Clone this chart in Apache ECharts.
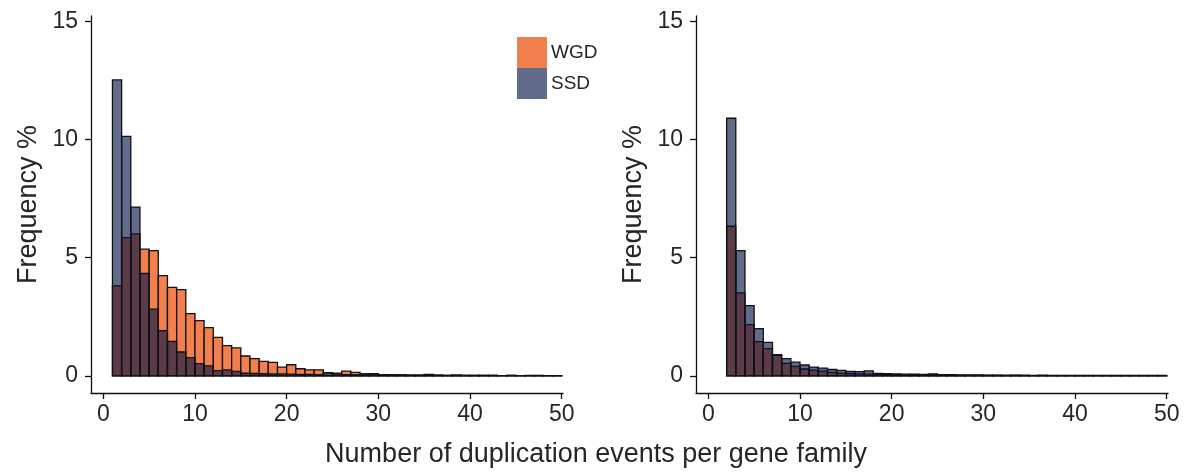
<!DOCTYPE html>
<html>
<head>
<meta charset="utf-8">
<script src="https://cdn.jsdelivr.net/npm/echarts@6/dist/echarts.min.js"></script>
<style>
html,body{margin:0;padding:0;background:#fff;}
#chart{width:1192px;height:472px;}
</style>
</head>
<body>
<div id="chart"></div>
<script>
// Bin start values (each bin spans [start, start+1])
const leftBins = [1,2,3,4,5,6,7,8,9,10,11,12,13,14,15,16,17,18,19,20,21,22,23,24,25,26,27,28,29,30,31,32,33,34,35,36,37,38,39,40,41,42,43,44,45,46,47,48,49];
const leftWGD = [3.81,5.85,6.01,5.36,5.30,4.24,3.74,3.65,2.63,2.34,2.04,1.63,1.28,1.18,0.84,0.73,0.61,0.57,0.37,0.47,0.30,0.25,0.25,0.14,0.10,0.20,0.15,0.08,0.09,0.05,0.04,0.04,0.03,0.03,0.05,0.03,0.02,0.03,0.02,0.02,0.02,0.02,0.01,0.02,0.01,0.01,0.02,0.01,0.01];
const leftSSD = [12.52,10.13,7.14,4.33,2.82,1.91,1.46,1.01,0.77,0.52,0.42,0.22,0.25,0.19,0.11,0.10,0.09,0.08,0.08,0.07,0.06,0.06,0.05,0.14,0.10,0.05,0.05,0.08,0.09,0.05,0.04,0.04,0.03,0.03,0.06,0.03,0.02,0.03,0.02,0.02,0.02,0.02,0.01,0.02,0.01,0.02,0.01,0.01,0.01];

const rightBins = [2,3,4,5,6,7,8,9,10,11,12,13,14,15,16,17,18,19,20,21,22,23,24,25,26,27,28,29,30,31,32,33,34,35,36,37,38,39,40,41,42,43,44,45,46,47,48,49];
const rightWGD = [6.33,3.51,2.17,1.45,1.15,0.87,0.53,0.40,0.29,0.24,0.20,0.15,0.12,0.10,0.08,0.07,0.06,0.05,0.05,0.04,0.04,0.03,0.04,0.03,0.03,0.02,0.02,0.02,0.02,0.02,0.01,0.02,0.01,0.01,0.01,0.01,0.01,0.01,0.01,0.01,0.01,0.01,0.01,0.01,0.01,0.01,0.01,0.01];
const rightSSD = [10.90,5.30,2.97,2.00,1.42,0.90,0.73,0.58,0.46,0.37,0.33,0.27,0.23,0.19,0.18,0.21,0.10,0.09,0.08,0.07,0.07,0.06,0.08,0.05,0.05,0.04,0.04,0.04,0.03,0.03,0.03,0.03,0.03,0.02,0.03,0.02,0.02,0.02,0.02,0.02,0.02,0.02,0.02,0.02,0.02,0.02,0.02,0.02];

const yTicks = [0,5,10,15];
const xTicks = [0,10,20,30,40,50];
const seriesNames = ['WGD','SSD'];
const xTitle = 'Number of duplication events per gene family';
const yTitle = 'Frequency %';

const colWGD = '#F2804F';
const colSSD = 'rgba(0,16,67,0.62)';
const textCol = '#262626';
const font = 'Liberation Sans, Arial, Helvetica, sans-serif';

function pairs(bins, vals){ return bins.map((b,i)=>[b, vals[i]]); }

function renderBar(params, api){
  const x0 = api.value(0), v = api.value(1);
  const p1 = api.coord([x0, v]);
  const p2 = api.coord([x0 + 1, 0]);
  return {
    type: 'rect',
    shape: {x: p1[0], y: p1[1], width: p2[0]-p1[0], height: p2[1]-p1[1]},
    style: {fill: api.visual('color'), stroke: '#111', lineWidth: 1.3}
  };
}

function mkX(idx){
  return {
    type: 'value', gridIndex: idx, min: -1.34, max: 50.14,
    axisLine: {show: true, onZero: false, lineStyle: {color: '#111', width: 1.3}},
    axisTick: {show: true, length: 6, lineStyle: {color: '#111', width: 1.3}, customValues: xTicks},
    axisLabel: {show: true, color: textCol, fontSize: 23, fontFamily: font, margin: 10, customValues: xTicks},
    splitLine: {show: false}
  };
}
function mkY(idx, gap){
  return {
    type: 'value', gridIndex: idx, min: -0.725, max: 15.225,
    name: yTitle, nameLocation: 'middle', nameRotate: 90, nameGap: gap,
    nameTextStyle: {color: textCol, fontSize: 27, fontFamily: font},
    axisLine: {show: true, onZero: false, lineStyle: {color: '#111', width: 1.3}},
    axisTick: {show: true, length: 6, lineStyle: {color: '#111', width: 1.3}, customValues: yTicks},
    axisLabel: {show: true, color: textCol, fontSize: 23, fontFamily: font, margin: 13, customValues: yTicks},
    splitLine: {show: false}
  };
}

const chart = echarts.init(document.getElementById('chart'), null, {renderer: 'canvas'});
chart.setOption({
  animation: false,
  backgroundColor: '#fff',
  grid: [
    {left: 91, top: 16, width: 472, height: 377},
    {left: 696, top: 16, width: 472, height: 377}
  ],
  xAxis: [mkX(0), mkX(1)],
  yAxis: [mkY(0, 49), mkY(1, 49)],
  legend: {
    data: seriesNames, orient: 'vertical', left: 512, top: 32,
    itemWidth: 30, itemHeight: 31, itemGap: 0, icon: 'rect',
    itemStyle: {borderWidth: 0},
    textStyle: {color: textCol, fontSize: 19, fontFamily: font, padding: [0,0,0,-1]}
  },
  graphic: [{
    type: 'text', left: 'center', top: 441,
    style: {text: xTitle, fill: textCol, fontSize: 27, fontFamily: font}
  }],
  series: [
    {type: 'custom', name: seriesNames[0], xAxisIndex: 0, yAxisIndex: 0, renderItem: renderBar, itemStyle: {color: colWGD}, data: pairs(leftBins, leftWGD), encode: {x: 0, y: 1}},
    {type: 'custom', name: seriesNames[1], xAxisIndex: 0, yAxisIndex: 0, renderItem: renderBar, itemStyle: {color: colSSD}, data: pairs(leftBins, leftSSD), encode: {x: 0, y: 1}},
    {type: 'custom', name: seriesNames[0], xAxisIndex: 1, yAxisIndex: 1, renderItem: renderBar, itemStyle: {color: colWGD}, data: pairs(rightBins, rightWGD), encode: {x: 0, y: 1}},
    {type: 'custom', name: seriesNames[1], xAxisIndex: 1, yAxisIndex: 1, renderItem: renderBar, itemStyle: {color: colSSD}, data: pairs(rightBins, rightSSD), encode: {x: 0, y: 1}}
  ]
});
</script>
</body>
</html>
